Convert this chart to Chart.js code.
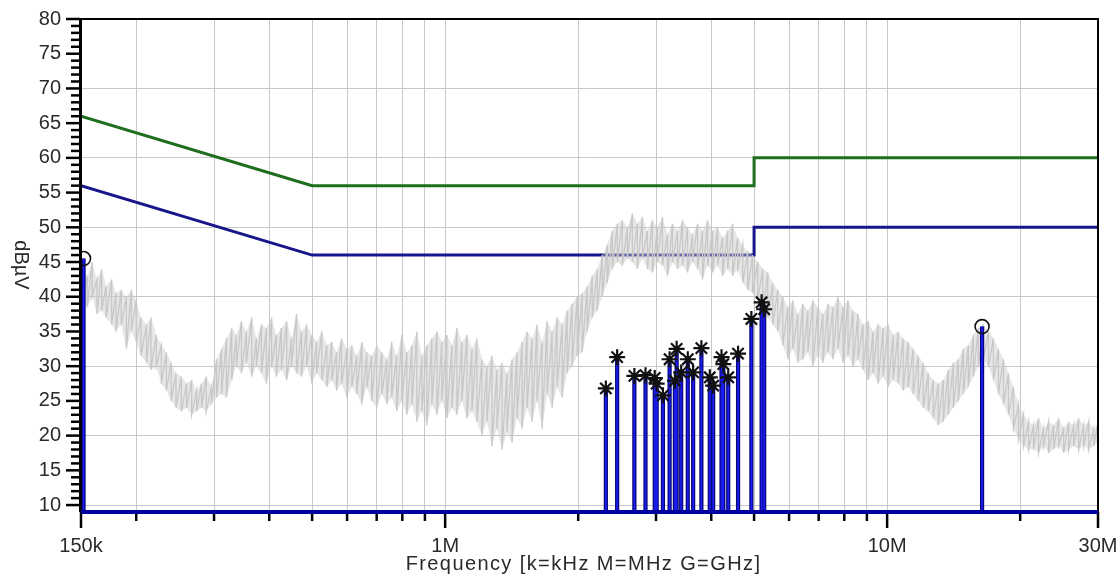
<!DOCTYPE html>
<html>
<head>
<meta charset="utf-8">
<script src="https://cdn.jsdelivr.net/npm/chart.js@4.4.0/dist/chart.umd.min.js"></script>
<style>
html, body { margin: 0; padding: 0; background: #fff; }
#wrap { width: 1120px; height: 587px; position: relative; }
</style>
</head>
<body>
<div id="wrap"><canvas id="c"></canvas></div>
<script>
// ---- axis ranges ----
const freqMin = 150e3;
const freqMax = 30e6;
const levelMin = 9;
const levelMax = 80;

// frequency grid / tick marks (Hz) and the labelled ones
const xTickFreqs = [150e3, 200e3, 300e3, 400e3, 500e3, 600e3, 700e3, 800e3, 900e3,
  1e6, 2e6, 3e6, 4e6, 5e6, 6e6, 7e6, 8e6, 9e6, 10e6, 20e6, 30e6];
const xLabelFreqs = [150e3, 1e6, 10e6, 30e6];
const xLabelTexts = ['150k', '1M', '10M', '30M'];

// ---- limit lines (Hz, dBµV) ----
const qpLimitFreqs = [150e3, 500e3, 5e6, 5e6, 30e6];
const qpLimitLevels = [66, 56, 56, 60, 60];
const avLimitFreqs = [150e3, 500e3, 5e6, 5e6, 30e6];
const avLimitLevels = [56, 46, 46, 50, 50];

// ---- pre-scan sweep: bin frequency (kHz), upper and lower level in each bin ----
const sweepFreqKHz = [
  151, 155, 159, 163, 167, 171, 176, 180, 185, 190,
  195, 200, 205, 211, 216, 222, 228, 234, 240, 246,
  253, 260, 267, 274, 281, 288, 296, 304, 312, 320,
  329, 337, 346, 355, 365, 374, 384, 394, 405, 415,
  426, 438, 449, 461, 473, 486, 499, 512, 526, 540,
  554, 568, 583, 599, 615, 631, 648, 665, 682, 700,
  719, 738, 757, 777, 798, 819, 841, 863, 886, 909,
  933, 958, 983, 1009, 1036, 1063, 1091, 1120, 1150, 1180,
  1211, 1243, 1276, 1310, 1345, 1380, 1417, 1454, 1493, 1532,
  1573, 1614, 1657, 1701, 1746, 1792, 1840, 1888, 1938, 1990,
  2042, 2096, 2152, 2209, 2267, 2327, 2389, 2452, 2517, 2584,
  2652, 2722, 2794, 2868, 2944, 3022, 3102, 3184, 3268, 3355,
  3444, 3535, 3628, 3724, 3823, 3924, 4028, 4135, 4244, 4356,
  4472, 4590, 4712, 4836, 4964, 5096, 5231, 5369, 5511, 5657,
  5807, 5961, 6118, 6280, 6447, 6617, 6793, 6972, 7157, 7347,
  7541, 7741, 7946, 8156, 8372, 8594, 8821, 9055, 9294, 9540,
  9793, 10052, 10318, 10591, 10872, 11159, 11455, 11758, 12069, 12389,
  12717, 13053, 13399, 13753, 14117, 14491, 14875, 15268, 15672, 16087,
  16513, 16950, 17399, 17859, 18332, 18817, 19315, 19827, 20351, 20890,
  21443, 22011, 22593, 23191, 23805, 24435, 25082, 25746, 26427, 27127,
  27845, 28582, 29339, 29900
];
const sweepHigh = [
  44.5, 43, 45, 42.5, 44, 41.5, 42.5, 40.5, 41, 40,
  41, 39.5, 37, 36, 37, 34.5, 33, 32, 30.5, 29,
  28.5, 27.5, 28, 26.5, 27.5, 28.5, 27, 31, 32.5, 34,
  35.5, 34.5, 36.5, 35, 37, 34, 36, 35.5, 37, 34.5,
  35.5, 36.5, 34, 37.5, 35, 36, 34.5, 33.5, 35, 33,
  33.5, 32, 34, 32.5, 33, 31.5, 33.5, 32, 31.5, 33,
  32, 31, 33.5, 31.5, 34.5, 32, 33, 35, 31.5, 33,
  34, 35, 33.5, 34.5, 33, 35.5, 33.5, 34.5, 32.5, 34,
  31, 30, 31.5, 29.5, 30.5, 29, 31, 32, 33.5, 35,
  34, 36, 33.5, 36.5, 35, 37, 36, 38, 39, 40,
  40.5, 41.5, 43, 44, 46, 47.5, 49.5, 50.5, 51, 50,
  52, 50.5, 51.5, 49.5, 51, 50, 51.5, 49, 50.5, 49.5,
  51, 50, 49, 50.5, 49.5, 51, 49.5, 50, 48.5, 49.5,
  50.5, 48.5, 47.5, 46.5, 46, 45, 44, 43.5, 42, 41,
  40, 38.5, 39.5, 37.5, 39, 38, 39.5, 38.5, 37.5, 39,
  38.5, 40, 38.5, 39.5, 38, 37.5, 36, 36.5, 35, 36,
  35.5, 36, 34.5, 35, 34, 33.5, 32.5, 31.5, 30.5, 29,
  28, 27.5, 28, 29.5, 30.5, 31, 32.5, 33, 34.5, 35.5,
  36, 35, 34, 32.5, 31, 29, 27, 24.5, 23, 22,
  21.5, 22.5, 21, 22, 21.5, 22.5, 21, 22, 21.5, 22.5,
  21.5, 22, 21, 21.5
];
const sweepLow = [
  39, 38.5, 40, 37.5, 38, 37, 36, 35, 36, 32.5,
  35, 33.5, 31.5, 30.5, 29.5, 30, 27.5, 26.5, 25, 24,
  23.5, 24, 23, 23.5, 24, 23.5, 24.5, 25.5, 26, 25.5,
  28, 30, 29, 30.5, 28.5, 30, 29, 27.5, 30, 28.5,
  29.5, 28, 30, 29, 28.5, 30, 27.5, 29, 28, 27,
  28, 26.5, 27.5, 25.5, 27, 26, 24.5, 27, 25, 24,
  26, 24.5, 25.5, 23.5, 25, 23, 24.5, 22, 23.5, 21.5,
  24.5, 23, 25, 22.5, 24, 23, 25, 22.5, 23.5, 22,
  20, 22, 18.5, 21, 18, 20.5, 19, 22.5, 21, 24,
  22, 25, 21, 26, 24, 27, 25.5, 29, 30, 31.5,
  32, 35, 37, 38, 40, 42, 44, 45, 44.5, 45.5,
  45, 44, 45.5, 44, 43.5, 45, 44.5, 43, 45, 44,
  44.5, 43.5, 45, 44, 42.5, 44.5, 43.5, 44.5, 43, 44,
  43, 44, 42, 41, 40.5, 39.5, 38, 37, 36, 35,
  33, 31, 32.5, 30.5, 31, 32, 30, 31.5, 30.5, 32,
  31, 32.5, 30.5, 31.5, 30, 31, 29.5, 28, 29, 27.5,
  28.5, 27, 28, 27.5, 26.5, 27, 26, 25, 24, 23.5,
  22.5, 21.5, 22, 23, 24, 25, 26, 27, 28.5, 30,
  31, 30, 28, 26, 24.5, 23, 21, 19.5, 18.5, 18,
  18, 17.5, 18.5, 17.5, 18, 18.5, 17.5, 18, 18.5, 18,
  18.5, 18, 18.5, 19
];

// ---- final measurement: peaks (MHz, dBµV) ----
const peakFreqMHz = [2.31, 2.45, 2.68, 2.84, 2.98, 3.01, 3.11, 3.22, 3.31, 3.34, 3.42, 3.54,
  3.64, 3.80, 3.97, 4.04, 4.22, 4.26, 4.37, 4.60, 4.93, 5.20, 5.27];
const peakLevel = [26.8, 31.3, 28.6, 28.7, 28.3, 27.5, 25.8, 31.0, 27.9, 32.5, 29.1, 31.0,
  29.1, 32.6, 28.4, 27.2, 31.3, 30.3, 28.4, 31.8, 36.8, 39.2, 38.2];
// highlighted maxima (circle markers)
const markFreqMHz = [0.152, 16.4];
const markLevel = [45.5, 35.7];

// ---- build series ----
const toXY = (fs, vs, k) => fs.map((f, i) => ({ x: f * k, y: vs[i] }));

const sweepPoints = [];
sweepFreqKHz.forEach((f, i) => {
  sweepPoints.push({ x: f * 1e3, y: sweepHigh[i] });
  sweepPoints.push({ x: f * 1e3, y: sweepLow[i] });
});

const stemPoints = [];
const allStemF = peakFreqMHz.concat(markFreqMHz);
const allStemV = peakLevel.concat(markLevel);
allStemF.forEach((f, i) => {
  stemPoints.push({ x: f * 1e6, y: levelMin });
  stemPoints.push({ x: f * 1e6, y: allStemV[i] });
  stemPoints.push({ x: f * 1e6, y: null });
});

const FONT = "'Liberation Sans', Arial, sans-serif";
const TEXT = '#2a2a2a';
const GRID = '#c8c8c8';

// frame, tick marks, baseline and axis titles
const axisDecor = {
  id: 'axisDecor',
  afterDraw(chart) {
    const { ctx, chartArea: a, scales: { x, y } } = chart;
    ctx.save();
    ctx.lineCap = 'butt';
    // top and right frame
    ctx.strokeStyle = '#000';
    ctx.lineWidth = 2;
    ctx.beginPath();
    ctx.moveTo(a.left, a.top);
    ctx.lineTo(a.right, a.top);
    ctx.lineTo(a.right, a.bottom);
    ctx.stroke();
    // left axis line
    ctx.lineWidth = 3;
    ctx.beginPath();
    ctx.moveTo(a.left - 0.5, a.top - 1);
    ctx.lineTo(a.left - 0.5, a.bottom);
    ctx.stroke();
    // y tick marks: long at every 5, short at every 1
    ctx.lineWidth = 2.5;
    for (let v = 10; v <= levelMax; v++) {
      const py = y.getPixelForValue(v);
      const len = v % 5 === 0 ? 13 : 8;
      ctx.beginPath();
      ctx.moveTo(a.left - 2 - len, py);
      ctx.lineTo(a.left - 1, py);
      ctx.stroke();
    }
    // x tick marks
    xTickFreqs.forEach(f => {
      const px = x.getPixelForValue(f);
      const len = xLabelFreqs.includes(f) ? 16 : 9;
      ctx.beginPath();
      ctx.moveTo(px, a.bottom);
      ctx.lineTo(px, a.bottom + len);
      ctx.stroke();
    });
    // bottom baseline
    ctx.strokeStyle = '#0000a0';
    ctx.lineWidth = 4;
    ctx.beginPath();
    ctx.moveTo(a.left, a.bottom);
    ctx.lineTo(a.right, a.bottom);
    ctx.stroke();
    // x axis title
    ctx.fillStyle = TEXT;
    ctx.font = "20px " + FONT;
    ctx.textAlign = 'center';
    ctx.textBaseline = 'alphabetic';
    if ('letterSpacing' in ctx) ctx.letterSpacing = '1.4px';
    ctx.fillText('Frequency [k=kHz M=MHz G=GHz]', (a.left + a.right) / 2 - 6, 570);
    if ('letterSpacing' in ctx) ctx.letterSpacing = '0px';
    // y axis title, reading downwards
    ctx.translate(21, 265);
    ctx.rotate(Math.PI / 2);
    ctx.textBaseline = 'middle';
    ctx.fillText('dBµV', 0, 0);
    ctx.restore();
  }
};

new Chart(document.getElementById('c'), {
  type: 'line',
  data: {
    datasets: [
      { // circle markers
        data: toXY(markFreqMHz, markLevel, 1e6),
        showLine: false, pointStyle: 'circle', pointRadius: 7,
        pointBorderColor: '#111', pointBorderWidth: 1.6,
        pointBackgroundColor: 'rgba(255,255,255,0)', order: 0
      },
      { // star markers
        data: toXY(peakFreqMHz, peakLevel, 1e6),
        showLine: false, pointStyle: 'star', pointRadius: 8,
        pointBorderColor: '#111', pointBorderWidth: 2.2, order: 1
      },
      { // stems, inner
        data: stemPoints, borderColor: '#1c1cf0', borderWidth: 1.8,
        pointRadius: 0, spanGaps: false, order: 2
      },
      { // stems, outline
        data: stemPoints, borderColor: '#06067a', borderWidth: 4.2,
        pointRadius: 0, spanGaps: false, order: 3
      },
      { // sweep trace
        data: sweepPoints, borderColor: '#c8c8c8', borderWidth: 1.3,
        pointRadius: 0, order: 4
      },
      { // sweep envelope, upper edge (filled down to the lower edge)
        data: toXY(sweepFreqKHz, sweepHigh, 1e3), borderWidth: 0, borderColor: 'rgba(0,0,0,0)',
        pointRadius: 0, fill: '+1', backgroundColor: 'rgba(200,200,200,0.45)', order: 4.5
      },
      { // sweep envelope, lower edge
        data: toXY(sweepFreqKHz, sweepLow, 1e3), borderWidth: 0, borderColor: 'rgba(0,0,0,0)',
        pointRadius: 0, fill: false, order: 4.5
      },
      { // QP limit
        data: toXY(qpLimitFreqs, qpLimitLevels, 1), borderColor: '#1d6f1d',
        borderWidth: 3, pointRadius: 0, order: 5
      },
      { // AV limit
        data: toXY(avLimitFreqs, avLimitLevels, 1), borderColor: '#16168a',
        borderWidth: 3, pointRadius: 0, order: 5
      }
    ]
  },
  options: {
    responsive: true,
    maintainAspectRatio: false,
    animation: false,
    events: [],
    layout: { padding: { top: 19, right: 22, left: 0, bottom: 0 } },
    plugins: { legend: { display: false }, tooltip: { enabled: false } },
    elements: { line: { tension: 0 } },
    scales: {
      x: {
        type: 'logarithmic',
        min: freqMin, max: freqMax,
        afterBuildTicks: s => { s.ticks = xTickFreqs.map(v => ({ value: v })); },
        afterFit: s => { s.height = 75; s.paddingLeft = 0; s.paddingRight = 0; },
        ticks: {
          autoSkip: false, maxRotation: 0, minRotation: 0, padding: 22,
          color: TEXT, font: { family: FONT, size: 20 },
          callback: v => { const i = xLabelFreqs.indexOf(v); return i >= 0 ? xLabelTexts[i] : ''; }
        },
        grid: {
          drawTicks: false, lineWidth: 1,
          color: c => (c.tick && (c.tick.value === freqMin || c.tick.value === freqMax)) ? 'rgba(0,0,0,0)' : GRID
        },
        border: { display: false }
      },
      y: {
        type: 'linear',
        min: levelMin, max: levelMax,
        afterFit: s => { s.width = 81; s.paddingTop = 0; s.paddingBottom = 0; },
        ticks: {
          stepSize: 1, maxTicksLimit: 100, autoSkip: false, padding: 20,
          color: TEXT, font: { family: FONT, size: 20 },
          callback: v => (v % 5 === 0 ? String(v) : '')
        },
        grid: {
          drawTicks: false, lineWidth: 1,
          color: c => (c.tick && c.tick.value % 10 === 0 && c.tick.value !== levelMax) ? GRID : 'rgba(0,0,0,0)'
        },
        border: { display: false }
      }
    }
  },
  plugins: [axisDecor]
});
</script>
</body>
</html>
